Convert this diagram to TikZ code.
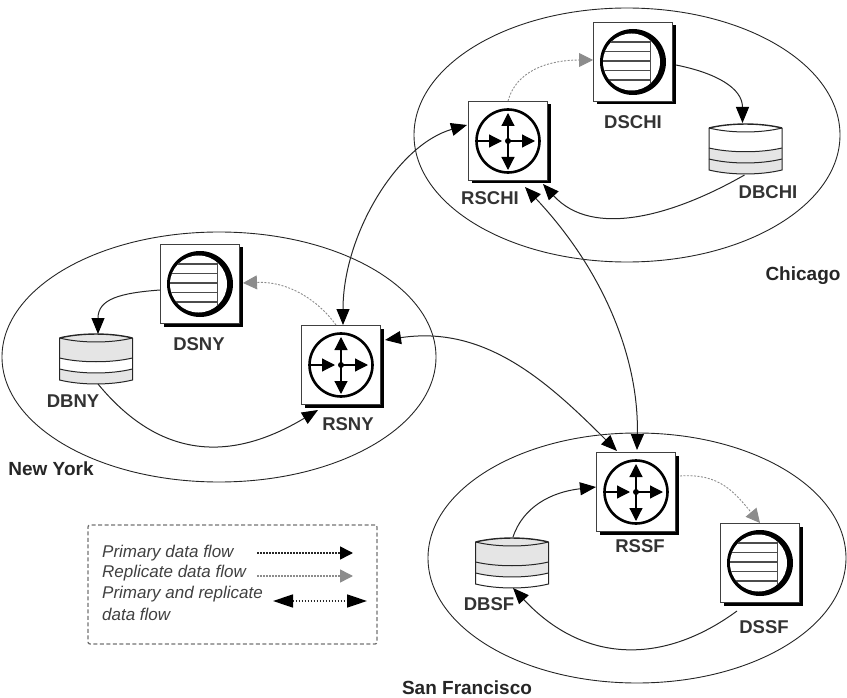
\documentclass[tikz,border=0pt]{standalone}
\usepackage{fontspec}
\setmainfont{Liberation Sans}
\usetikzlibrary{arrows.meta}
\tikzset{
  x=1pt,y=-1pt,
  iconbox/.style={draw=black!75,line width=1pt,fill=white,minimum size=79pt,inner sep=0pt,outer sep=0pt},
  iconshadow/.style={fill=black,minimum size=79pt,inner sep=0pt,outer sep=0pt},
  lbl/.style={font=\bfseries\fontsize{18.5}{20}\selectfont,text=black!80,inner sep=0pt},
  sitelbl/.style={font=\bfseries\fontsize{19}{20}\selectfont,text=black!85,inner sep=0pt},
  legtext/.style={font=\itshape\fontsize{17}{20}\selectfont,text=black!75,inner sep=0pt,anchor=west},
  site/.style={draw=black!85,line width=0.9pt},
  flow/.style={draw=black!85,line width=1pt,-{Triangle[length=16pt,width=13pt,color=black]}},
  both/.style={draw=black!85,line width=1pt,{Triangle[length=16pt,width=13pt,color=black]}-{Triangle[length=16pt,width=13pt,color=black]}},
  repl/.style={draw=black!45,line width=0.9pt,dash pattern=on 2pt off 1.5pt,-{Triangle[length=14pt,width=14pt,fill=black!45]}},
  rarrow/.style={-{Triangle[length=13pt,width=13pt]},line width=1.2pt},
  legdot/.style={line width=1.5pt,dash pattern=on 1.5pt off 1.5pt},
}
% service: #1 name, #2 x, #3 y
\newcommand{\dsicon}[3]{%
  \node[iconshadow] at (#2+3,#3+3) {};
  \node[iconbox] (#1) at (#2,#3) {};
  \begin{scope}[shift={(#2,#3)}]
    \fill[black] (0,0) circle (33);
    \fill[white] (-1.5,0) circle (28.5);
    \begin{scope}
      \clip (-1.5,0) circle (28.5);
      \foreach \yy in {-20,-10.5,-1,8.5,18} \draw[black!70,line width=1.3pt] (-31,\yy) -- (17,\yy);
      \draw[black!70,line width=1pt] (17,-28) -- (17,28);
    \end{scope}
  \end{scope}}
\newcommand{\rsicon}[3]{%
  \node[iconshadow] at (#2+3,#3+3) {};
  \node[iconbox] (#1) at (#2,#3) {};
  \begin{scope}[shift={(#2,#3)}]
    \draw[black,line width=2.6pt] (0,0) circle (31.5);
    \fill[black] (0,0) circle (3);
    \draw[rarrow] (-31,0) -- (-6,0);
    \draw[rarrow] (0,0) -- (27,0);
    \draw[rarrow] (0,0) -- (0,-28);
    \draw[rarrow] (0,0) -- (0,29);
  \end{scope}}
% database: #1 name, #2 x, #3 y (centre), #4..#6 fills of the three bands
\newcommand{\dbicon}[6]{%
  \node[minimum width=73pt,minimum height=50pt,inner sep=0pt,outer sep=0pt] (#1) at (#2,#3) {};
  \begin{scope}[shift={(#2,#3)},draw=black!85,line width=1pt]
    \path[fill=#6] (-36.5,10) .. controls (-15,15.3) and (15,15.3) .. (36.5,10) -- (36.5,21) .. controls (15,26.3) and (-15,26.3) .. (-36.5,21) -- cycle;
    \path[fill=#5] (-36.5,-1) .. controls (-15,4) and (15,4) .. (36.5,-1) -- (36.5,10) .. controls (15,15.3) and (-15,15.3) .. (-36.5,10) -- cycle;
    \path[fill=#4] (-36.5,-21) .. controls (-15,-26.3) and (15,-26.3) .. (36.5,-21) -- (36.5,-1) .. controls (15,4) and (-15,4) .. (-36.5,-1) -- cycle;
    \draw[line width=1.4pt] (-36.5,-21) .. controls (-15,-26.3) and (15,-26.3) .. (36.5,-21);
    \draw (-36.5,-21) -- (-36.5,21) .. controls (-15,26.3) and (15,26.3) .. (36.5,21) -- (36.5,-21);
    \draw (-36.5,-21) .. controls (-15,-15.7) and (15,-15.7) .. (36.5,-21);
    \draw (-36.5,-1) .. controls (-15,4) and (15,4) .. (36.5,-1);
    \draw (-36.5,10) .. controls (-15,15.3) and (15,15.3) .. (36.5,10);
  \end{scope}}
\begin{document}
\begin{tikzpicture}
\useasboundingbox (0,0) rectangle (847,698);
% sites
\draw[site] (627,135) ellipse [x radius=213,y radius=127];
\draw[site] (219,357) ellipse [x radius=217,y radius=125];
\draw[site] (637,558) ellipse [x radius=209,y radius=125];
% icons
\rsicon{rschi}{508}{141}
\dsicon{dschi}{633}{62}
\dbicon{dbchi}{745.5}{149}{white}{black!10}{black!10}
\rsicon{rsny}{341}{365}
\dsicon{dsny}{200}{284}
\dbicon{dbny}{96}{359}{black!10}{white}{black!10}
\rsicon{rssf}{636}{492}
\dsicon{dssf}{760}{563}
\dbicon{dbsf}{512}{563}{black!10}{black!10}{white}
% labels
\node[lbl] (lrschi) at (490,198) {RSCHI};
\node[lbl] (ldschi) at (633,122) {DSCHI};
\node[lbl] (ldbchi) at (768,192) {DBCHI};
\node[lbl] (lrsny) at (348,424) {RSNY};
\node[lbl] (ldsny) at (199,344) {DSNY};
\node[lbl] (ldbny) at (73,401) {DBNY};
\node[lbl] (lrssf) at (640,546) {RSSF};
\node[lbl] (ldbsf) at (489,604) {DBSF};
\node[lbl] (ldssf) at (764,627) {DSSF};
\node[sitelbl] (chi) at (803,276) {Chicago};
\node[sitelbl] (ny) at (51,469) {New York};
\node[sitelbl] (sf) at (467,688) {San Francisco};
% connectors (second control point is relative to the end point)
\draw[repl] ([shift={(0,-40)}]rschi.center) .. controls +(8,-30) and +(-45,0) .. ([shift={(-40,-2)}]dschi.center);
\draw[flow] ([shift={(43,3)}]dschi.center) .. controls +(40,8) and +(0,-35) .. ([shift={(-3,-26)}]dbchi.center);
\draw[flow] ([shift={(-1,26)}]dbchi.center) .. controls +(-70,40) and +(50,55) .. ([shift={(35,43)}]rschi.center);
\draw[both] ([shift={(-41,-16)}]rschi.center) .. controls +(-70,20) and +(0,-90) .. ([shift={(2,-40)}]rsny.center);
\draw[both] ([shift={(17,46)}]rschi.center) .. controls +(80,85) and +(2,-90) .. ([shift={(1,-42)}]rssf.center);
\draw[both] ([shift={(44,-25)}]rsny.center) .. controls +(100,-15) and +(-70,-70) .. ([shift={(-19,-41)}]rssf.center);
\draw[repl] ([shift={(-5,-40)}]rsny.center) .. controls +(-18,-25) and +(45,-2) .. ([shift={(43,-1)}]dsny.center);
\draw[flow] ([shift={(-40,6)}]dsny.center) .. controls +(-40,3) and +(0,-35) .. ([shift={(2,-25)}]dbny.center);
\draw[flow] ([shift={(2,25)}]dbny.center) .. controls +(70,85) and +(-75,45) .. ([shift={(-23,45)}]rsny.center);
\draw[flow] ([shift={(1,-26)}]dbsf.center) .. controls +(10,-30) and +(-45,5) .. ([shift={(-40,-5)}]rssf.center);
\draw[repl] ([shift={(44,-16)}]rssf.center) .. controls +(40,-3) and +(-25,-30) .. ([shift={(0,-40)}]dssf.center);
\draw[flow] ([shift={(-23,48)}]dssf.center) .. controls +(-75,55) and +(70,75) .. ([shift={(1,25)}]dbsf.center);
% legend
\node[draw=black!55,line width=1.3pt,dash pattern=on 4pt off 2.5pt,rounded corners=2pt,minimum width=289pt,minimum height=119pt,inner sep=0pt] (legend) at (232.5,584.5) {};
\node[legtext] (l1) at (102,553) {Primary data flow};
\node[legtext] (l2) at (102,573) {Replicate data flow};
\node[legtext] (l3) at (102,594) {Primary and replicate};
\node[legtext] (l4) at (102,614) {data flow};
\coordinate (a1s) at (257,553); \coordinate (a1e) at (353,553);
\coordinate (a2s) at (257,576); \coordinate (a2e) at (353,576);
\coordinate (a3s) at (273,601); \coordinate (a3e) at (367,601);
\draw[legdot,draw=black!85,-{Triangle[length=13pt,width=13pt,color=black]}] (a1s) -- (a1e);
\draw[legdot,draw=black!45,-{Triangle[length=13pt,width=13pt,fill=black!45]}] (a2s) -- (a2e);
\draw[legdot,draw=black!85,{Triangle[length=20pt,width=13pt,color=black]}-{Triangle[length=20pt,width=13pt,color=black]}] (a3s) -- (a3e);
\end{tikzpicture}
\end{document}
